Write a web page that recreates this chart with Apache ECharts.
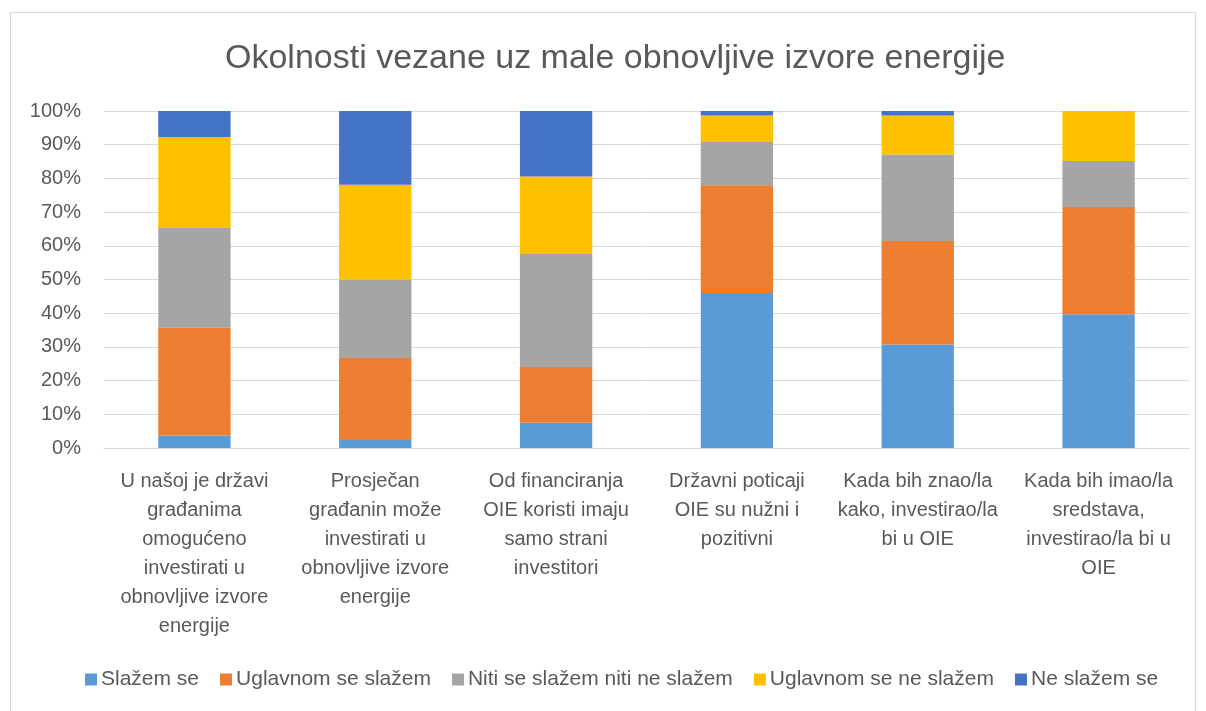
<!DOCTYPE html>
<html>
<head>
<meta charset="utf-8">
<title>Okolnosti vezane uz male obnovljive izvore energije</title>
<script src="https://cdn.jsdelivr.net/npm/echarts@6/dist/echarts.min.js"></script>
<style>
    html, body { margin: 0; padding: 0; background: #fff; }
    #frame { position: absolute; left: 10px; top: 12px; width: 1186px; height: 720px; border: 1px solid #d9d9d9; box-sizing: border-box; }
    #main { position: absolute; left: 0; top: 0; width: 1206px; height: 711px; }
</style>
</head>
<body>
<div id="frame"></div>
<div id="main"></div>
<script>
    // kategorije (pitanja)
    var categories = [
        'U našoj je državi\ngrađanima\nomogućeno\ninvestirati u\nobnovljive izvore\nenergije',
        'Prosječan\ngrađanin može\ninvestirati u\nobnovljive izvore\nenergije',
        'Od financiranja\nOIE koristi imaju\nsamo strani\ninvestitori',
        'Državni poticaji\nOIE su nužni i\npozitivni',
        'Kada bih znao/la\nkako, investirao/la\nbi u OIE',
        'Kada bih imao/la\nsredstava,\ninvestirao/la bi u\nOIE'
    ];
    // udjeli odgovora u %
    var slazemSe = [3.7, 2.4, 7.5, 46.0, 30.7, 39.7];
    var uglavnomSlazem = [32.0, 24.3, 16.5, 32.0, 30.7, 31.8];
    var nitiNiti = [29.6, 23.2, 33.6, 12.8, 25.7, 13.7];
    var uglavnomNeSlazem = [27.0, 28.2, 23.0, 7.9, 11.6, 14.8];
    var neSlazem = [7.7, 21.9, 19.4, 1.3, 1.3, 0];
    var yTicks = [0, 10, 20, 30, 40, 50, 60, 70, 80, 90, 100];

    var font = 'Liberation Sans, sans-serif';
    var myChart = echarts.init(document.getElementById('main'));

    function serija(name, data, color) {
        return {
            name: name,
            type: 'bar',
            stack: 'ukupno',
            barWidth: '40%',
            data: data,
            itemStyle: { color: color },
            emphasis: { disabled: true }
        };
    }

    var option = {
        animation: false,
        textStyle: { fontFamily: font },
        title: {
            text: 'Okolnosti vezane uz male obnovljive izvore energije',
            left: 220,
            top: 37,
            textStyle: { fontFamily: font, fontSize: 34, fontWeight: 'normal', color: '#595959' }
        },
        legend: {
            bottom: 16,
            left: 80,
            itemWidth: 12,
            itemHeight: 12,
            itemGap: 21,
            icon: 'rect',
            textStyle: { fontFamily: font, fontSize: 21, color: '#595959', padding: [0, 0, 0, -1] },
            data: ['Slažem se', 'Uglavnom se slažem', 'Niti se slažem niti ne slažem', 'Uglavnom se ne slažem', 'Ne slažem se']
        },
        grid: {
            left: 104,
            right: 17,
            top: 111,
            bottom: 263
        },
        xAxis: {
            type: 'category',
            data: categories,
            axisTick: { show: false },
            axisLine: { lineStyle: { color: '#d9d9d9', width: 1 } },
            axisLabel: {
                interval: 0,
                color: '#595959',
                fontFamily: font,
                fontSize: 20,
                lineHeight: 29,
                margin: 19
            }
        },
        yAxis: {
            type: 'value',
            min: yTicks[0],
            max: yTicks[yTicks.length - 1],
            interval: 10,
            axisLine: { show: false },
            axisTick: { show: false },
            splitLine: { lineStyle: { color: '#d9d9d9', width: 1 } },
            axisLabel: {
                color: '#595959',
                fontFamily: font,
                fontSize: 20,
                margin: 23,
                formatter: '{value}%'
            }
        },
        series: [
            serija('Slažem se', slazemSe, '#5b9bd5'),
            serija('Uglavnom se slažem', uglavnomSlazem, '#ed7d31'),
            serija('Niti se slažem niti ne slažem', nitiNiti, '#a5a5a5'),
            serija('Uglavnom se ne slažem', uglavnomNeSlazem, '#ffc000'),
            serija('Ne slažem se', neSlazem, '#4472c4')
        ]
    };

    myChart.setOption(option);
</script>
</body>
</html>
